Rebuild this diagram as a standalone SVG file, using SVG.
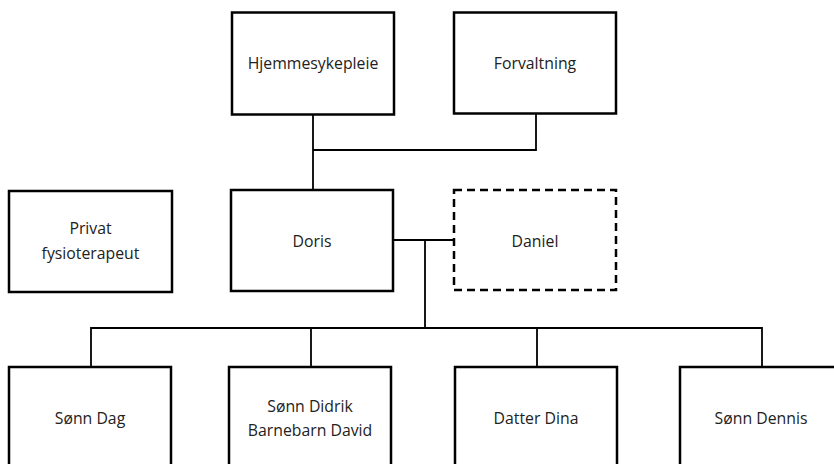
<svg xmlns="http://www.w3.org/2000/svg" width="834" height="464" viewBox="0 0 834 464">
<style>
.box{fill:#fff;stroke:#000;stroke-width:2.5}
.dash{stroke-dasharray:8 5}
.lbl{font-family:"Open Sans","Liberation Sans",sans-serif;font-size:15.8px;fill:#222;text-anchor:middle}
.con{fill:none;stroke:#000;stroke-width:1.8}
</style>
<rect width="834" height="464" fill="#fff"/>
<g id="connectors">
<path class="con" d="M313,114 V190 M313,150 H536 V113"/>
<path class="con" d="M393,240 H454 M425,240 V327"/>
<path class="con" d="M91,367 V328 H762 V367 M311,328 V367 M537,328 V367"/>
</g>
<g id="hjemmesykepleie"><rect class="box" x="232" y="12.5" width="162" height="102"/><text class="lbl" x="313" y="69">Hjemmesykepleie</text></g>
<g id="forvaltning"><rect class="box" x="454" y="12.5" width="162" height="101"/><text class="lbl" x="535" y="69">Forvaltning</text></g>
<g id="privat"><rect class="box" x="9" y="191" width="163" height="101"/><text class="lbl" x="90.5" y="234">Privat</text><text class="lbl" x="90.5" y="259">fysioterapeut</text></g>
<g id="doris"><rect class="box" x="231" y="190" width="162" height="101"/><text class="lbl" x="312" y="247">Doris</text></g>
<g id="daniel"><rect class="box dash" x="454" y="190" width="162" height="100"/><text class="lbl" x="535" y="247">Daniel</text></g>
<g id="sonn-dag"><rect class="box" x="9" y="367" width="162" height="110"/><text class="lbl" x="90" y="424">Sønn Dag</text></g>
<g id="sonn-didrik"><rect class="box" x="229" y="367" width="162" height="110"/><text class="lbl" x="310" y="412">Sønn Didrik</text><text class="lbl" x="310" y="436">Barnebarn David</text></g>
<g id="datter-dina"><rect class="box" x="455" y="367" width="162" height="110"/><text class="lbl" x="536" y="424">Datter Dina</text></g>
<g id="sonn-dennis"><rect class="box" x="680" y="367" width="163" height="110"/><text class="lbl" x="761" y="424">Sønn Dennis</text></g>
</svg>
